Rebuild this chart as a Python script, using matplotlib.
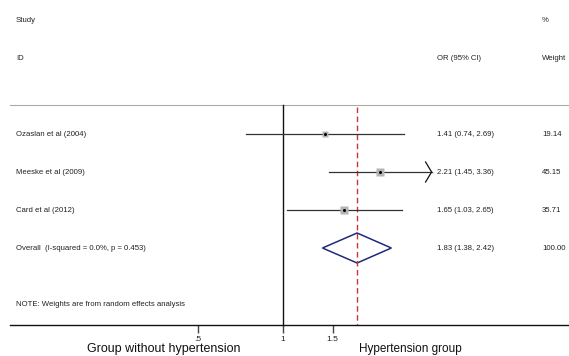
import numpy as np
import matplotlib
matplotlib.use('Agg')
import matplotlib.pyplot as plt
from matplotlib.transforms import blended_transform_factory

plt.rcParams['font.family'] = ['Liberation Sans', 'DejaVu Sans']

# data
studies = ['Ozaslan et al (2004)', 'Meeske et al (2009)', 'Card et al (2012)']
odds = [1.41, 2.21, 1.65]
lower = [0.74, 1.45, 1.03]
upper = [2.69, 3.36, 2.65]
weights = [19.14, 45.15, 35.71]
overall_or, overall_lo, overall_hi = 1.83, 1.38, 2.42
overall_label = 'Overall  (I-squared = 0.0%, p = 0.453)'
tick_vals = [0.5, 1, 1.5]
tick_labels = ['.5', '1', '1.5']

W, H = 569, 356
fig = plt.figure(figsize=(W / 100, H / 100), dpi=100)
# axes: left at px 10, bottom at px 325 (from top), right edge of figure
ax = fig.add_axes([10 / W, (H - 325) / H, 1 - 10 / W, 325 / H])
ax.set_xscale('log')
scale = 122.6  # px per ln unit, x=1 sits at px 283
ax.set_xlim(np.exp((10 - 283) / scale), np.exp((W - 283) / scale))
ax.set_ylim(325, 0)
for s in ['top', 'right', 'left']:
    ax.spines[s].set_visible(False)
ax.spines['bottom'].set_linewidth(1.0)
ax.spines['bottom'].set_color('#111111')
ax.set_xticks(tick_vals)
ax.set_xticklabels(tick_labels)
ax.xaxis.set_minor_locator(matplotlib.ticker.NullLocator())
ax.tick_params(axis='x', length=6, width=1, color='#444444', labelsize=6,
               labelcolor='#222222', pad=2)
ax.set_yticks([])

tx = blended_transform_factory(fig.transFigure, ax.transData)
txt = dict(fontsize=5.6, color='#222222', va='center', transform=tx, clip_on=False)

def fx(px):
    return px / W

# header
ax.text(fx(16), 20, 'Study', **txt)
ax.text(fx(16), 58, 'ID', **txt)
ax.text(fx(437), 58, 'OR (95% CI)', **txt)
ax.text(fx(542), 20, '%', **txt)
ax.text(fx(542), 58, 'Weight', **txt)
ax.plot([0, 1], [105, 105], transform=blended_transform_factory(ax.transAxes, ax.transData),
        color='#aaaaaa', lw=0.8, clip_on=False)

# no-effect line and overall line
ax.plot([1, 1], [105, 325], color='#111111', lw=1.0, clip_on=False)
ax.plot([overall_or, overall_or], [107, 325], color='#c8343c', lw=1.0,
        ls=(0, (4, 2.5)), clip_on=False)

rows = [134, 172, 210]
xmax_plot = 3.36
for i, (name, o, lo, hi, w) in enumerate(zip(studies, odds, lower, upper, weights)):
    y = rows[i]
    ax.text(fx(16), y, name, **txt)
    ax.text(fx(437), y, f'{o:.2f} ({lo:.2f}, {hi:.2f})', **txt)
    ax.text(fx(542), y, f'{w:.2f}', **txt)
    ax.plot([lo, hi], [y, y], color='#333333', lw=0.9, clip_on=False)
    side = 1.19 * np.sqrt(w) * 0.72
    ax.plot(o, y, marker='s', ms=side, mfc='#b4b4b4', mec='none', clip_on=False)
    ax.plot(o, y, marker='o', ms=2.2, mfc='black', mec='none', clip_on=False)
    if hi >= xmax_plot:
        # open arrow at the right limit
        back = hi * np.exp(-6 / scale)
        ax.plot([back, hi, back], [y - 10, y, y + 10], color='#111111', lw=0.9,
                clip_on=False)

# overall diamond
yo = 248
ax.fill([overall_lo, overall_or, overall_hi, overall_or, overall_lo],
        [yo, yo - 15, yo, yo + 15, yo], facecolor='none', edgecolor='#1f2a7a',
        lw=1.1, clip_on=False)
ax.text(fx(16), yo, overall_label, **txt)
ax.text(fx(437), yo, f'{overall_or:.2f} ({overall_lo:.2f}, {overall_hi:.2f})', **txt)
ax.text(fx(542), yo, '100.00', **txt)

ax.text(fx(16), 305, 'NOTE: Weights are from random effects analysis', **txt)

# bottom axis captions
fig.text(164 / W, 1 - 349 / H, 'Group without hypertension', fontsize=9,
         color='#111111', ha='center', va='center')
fig.text(410 / W, 1 - 349 / H, 'Hypertension group', fontsize=8.5,
         color='#111111', ha='center', va='center')

fig.savefig('out.png', dpi=100, facecolor='white')
